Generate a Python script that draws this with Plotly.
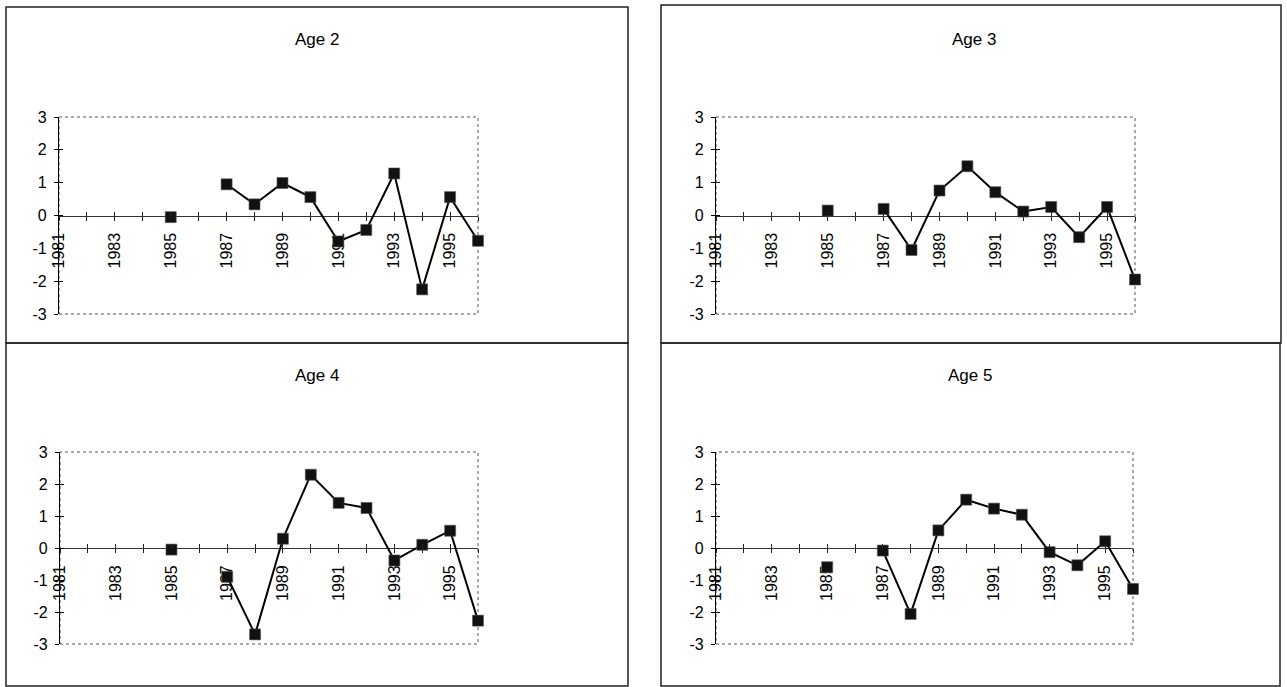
import plotly.graph_objects as go

# ---------------- data ----------------
years = list(range(1981, 1997))
titles = ["Age 2", "Age 3", "Age 4", "Age 5"]
age2 = [None, None, None, None, -0.05, None, 0.95, 0.34, 0.99, 0.56, -0.79, -0.44, 1.28, -2.25, 0.56, -0.77]
age3 = [None, None, None, None, 0.15, None, 0.20, -1.05, 0.76, 1.50, 0.71, 0.12, 0.26, -0.66, 0.26, -1.95]
age4 = [None, None, None, None, -0.05, None, -0.90, -2.70, 0.29, 2.29, 1.41, 1.25, -0.39, 0.10, 0.54, -2.27]
age5 = [None, None, None, None, -0.60, None, -0.08, -2.06, 0.55, 1.51, 1.23, 1.04, -0.13, -0.54, 0.21, -1.28]
series = [age2, age3, age4, age5]
x_tickvals = [1981, 1983, 1985, 1987, 1989, 1991, 1993, 1995]
x_ticktext = ["1981", "1983", "1985", "1987", "1989", "1991", "1993", "1995"]
y_tickvals = [-3, -2, -1, 0, 1, 2, 3]
y_ticktext = ["-3", "-2", "-1", "0", "1", "2", "3"]

# ---------------- layout geometry (pixels) ----------------
W, H = 1287, 687
FONT = "Liberation Sans, Arial, sans-serif"
# plot areas: (left, right, top, bottom)
plot_boxes = [(59, 478, 117, 314), (716, 1135, 117, 314),
              (60, 478, 452, 644), (716, 1133, 452, 644)]
# outer chart boxes: (left, right, top, bottom)
outer_boxes = [(6, 628, 7, 343), (661, 1281, 5, 343),
               (6, 628, 343, 686), (661, 1280, 343, 686)]
title_pos = [(317, 39), (974, 39), (317, 375), (970, 375)]


def xd(a, b):
    return [a / W, b / W]


def yd(top, bottom):
    return [1 - bottom / H, 1 - top / H]


fig = go.Figure()
layout = dict(width=W, height=H, margin=dict(l=0, r=0, t=0, b=0, autoexpand=False),
              paper_bgcolor="white", plot_bgcolor="white", showlegend=False,
              font=dict(family=FONT, size=16, color="black"))
shapes = []
annotations = []

for i in range(4):
    n = i + 1
    l, r, t, b = plot_boxes[i]
    sx = "" if n == 1 else str(n)
    xdom = xd(l, r)
    ydom = yd(t, b)
    zero_pos = (ydom[0] + ydom[1]) / 2

    # main x axis (labels + outside ticks), crossing at y=0
    layout["xaxis" + sx] = dict(
        domain=xdom, range=[1981, 1996], anchor="free", position=zero_pos,
        showgrid=False, zeroline=False, showline=True, linecolor="#333", linewidth=1,
        ticks="outside", ticklen=4, tickwidth=1, tickcolor="#222",
        tickvals=years, ticktext=[str(y) if y in x_tickvals else "" for y in years],
        tickangle=-90, tickfont=dict(family=FONT, size=16, color="black"),
        ticklabelstandoff=6, layer="below traces", fixedrange=True)
    # main y axis
    layout["yaxis" + sx] = dict(
        domain=ydom, range=[-3, 3], anchor="x" + sx,
        showgrid=False, zeroline=False, showline=True, linecolor="black", linewidth=1.3,
        ticks="outside", ticklen=4, tickwidth=1, tickcolor="black",
        tickvals=y_tickvals, ticktext=y_ticktext,
        tickfont=dict(family=FONT, size=16, color="black"),
        ticklabelstandoff=4, fixedrange=True)
    # overlay axes for the inside half of the crossing tick marks
    ox = str(n + 4)
    layout["xaxis" + ox] = dict(
        domain=xdom, range=[1981, 1996], anchor="free", position=zero_pos,
        overlaying="x" + sx, showgrid=False, zeroline=False, showline=False,
        ticks="inside", ticklen=4, tickwidth=1, tickcolor="#222",
        tickvals=years, showticklabels=False, fixedrange=True)
    layout["yaxis" + ox] = dict(
        domain=ydom, range=[-3, 3], anchor="x" + sx, overlaying="y" + sx,
        showgrid=False, zeroline=False, showline=False,
        ticks="inside", ticklen=4, tickwidth=1, tickcolor="black",
        tickvals=y_tickvals, showticklabels=False, fixedrange=True)
    fig.add_trace(go.Scatter(x=[None], y=[None], xaxis="x" + ox, yaxis="y" + sx,
                             hoverinfo="skip", showlegend=False))
    fig.add_trace(go.Scatter(x=[None], y=[None], xaxis="x" + sx, yaxis="y" + ox,
                             hoverinfo="skip", showlegend=False))

    # data series
    fig.add_trace(go.Scatter(
        x=years, y=series[i], xaxis="x" + sx, yaxis="y" + sx,
        mode="lines+markers", connectgaps=False, cliponaxis=False,
        line=dict(color="black", width=2),
        marker=dict(symbol="square", size=11, color="#111",
                    line=dict(color="#555", width=0.6)),
        name=titles[i]))

    # dotted plot-area border (top, right, bottom)
    shapes.append(dict(type="rect", xref="x" + sx + " domain", yref="y" + sx + " domain",
                       x0=0, x1=1, y0=0, y1=1,
                       line=dict(color="#555", width=1, dash="dot"), layer="below"))
    # outer chart box
    ol, orr, ot, ob = outer_boxes[i]
    shapes.append(dict(type="rect", xref="paper", yref="paper",
                       x0=ol / W, x1=orr / W, y0=1 - ob / H, y1=1 - ot / H,
                       line=dict(color="#222", width=1.5), layer="below"))
    # title
    tx, ty = title_pos[i]
    annotations.append(dict(text=titles[i], xref="paper", yref="paper",
                            x=tx / W, y=1 - ty / H, showarrow=False,
                            xanchor="center", yanchor="middle",
                            font=dict(family=FONT, size=17, color="black")))

layout["shapes"] = shapes
layout["annotations"] = annotations
fig.update_layout(**layout)
fig.write_html("out.html", config={"displayModeBar": False},
               post_script="document.body.style.margin='0px';"
                           "document.body.style.overflow='hidden';")
